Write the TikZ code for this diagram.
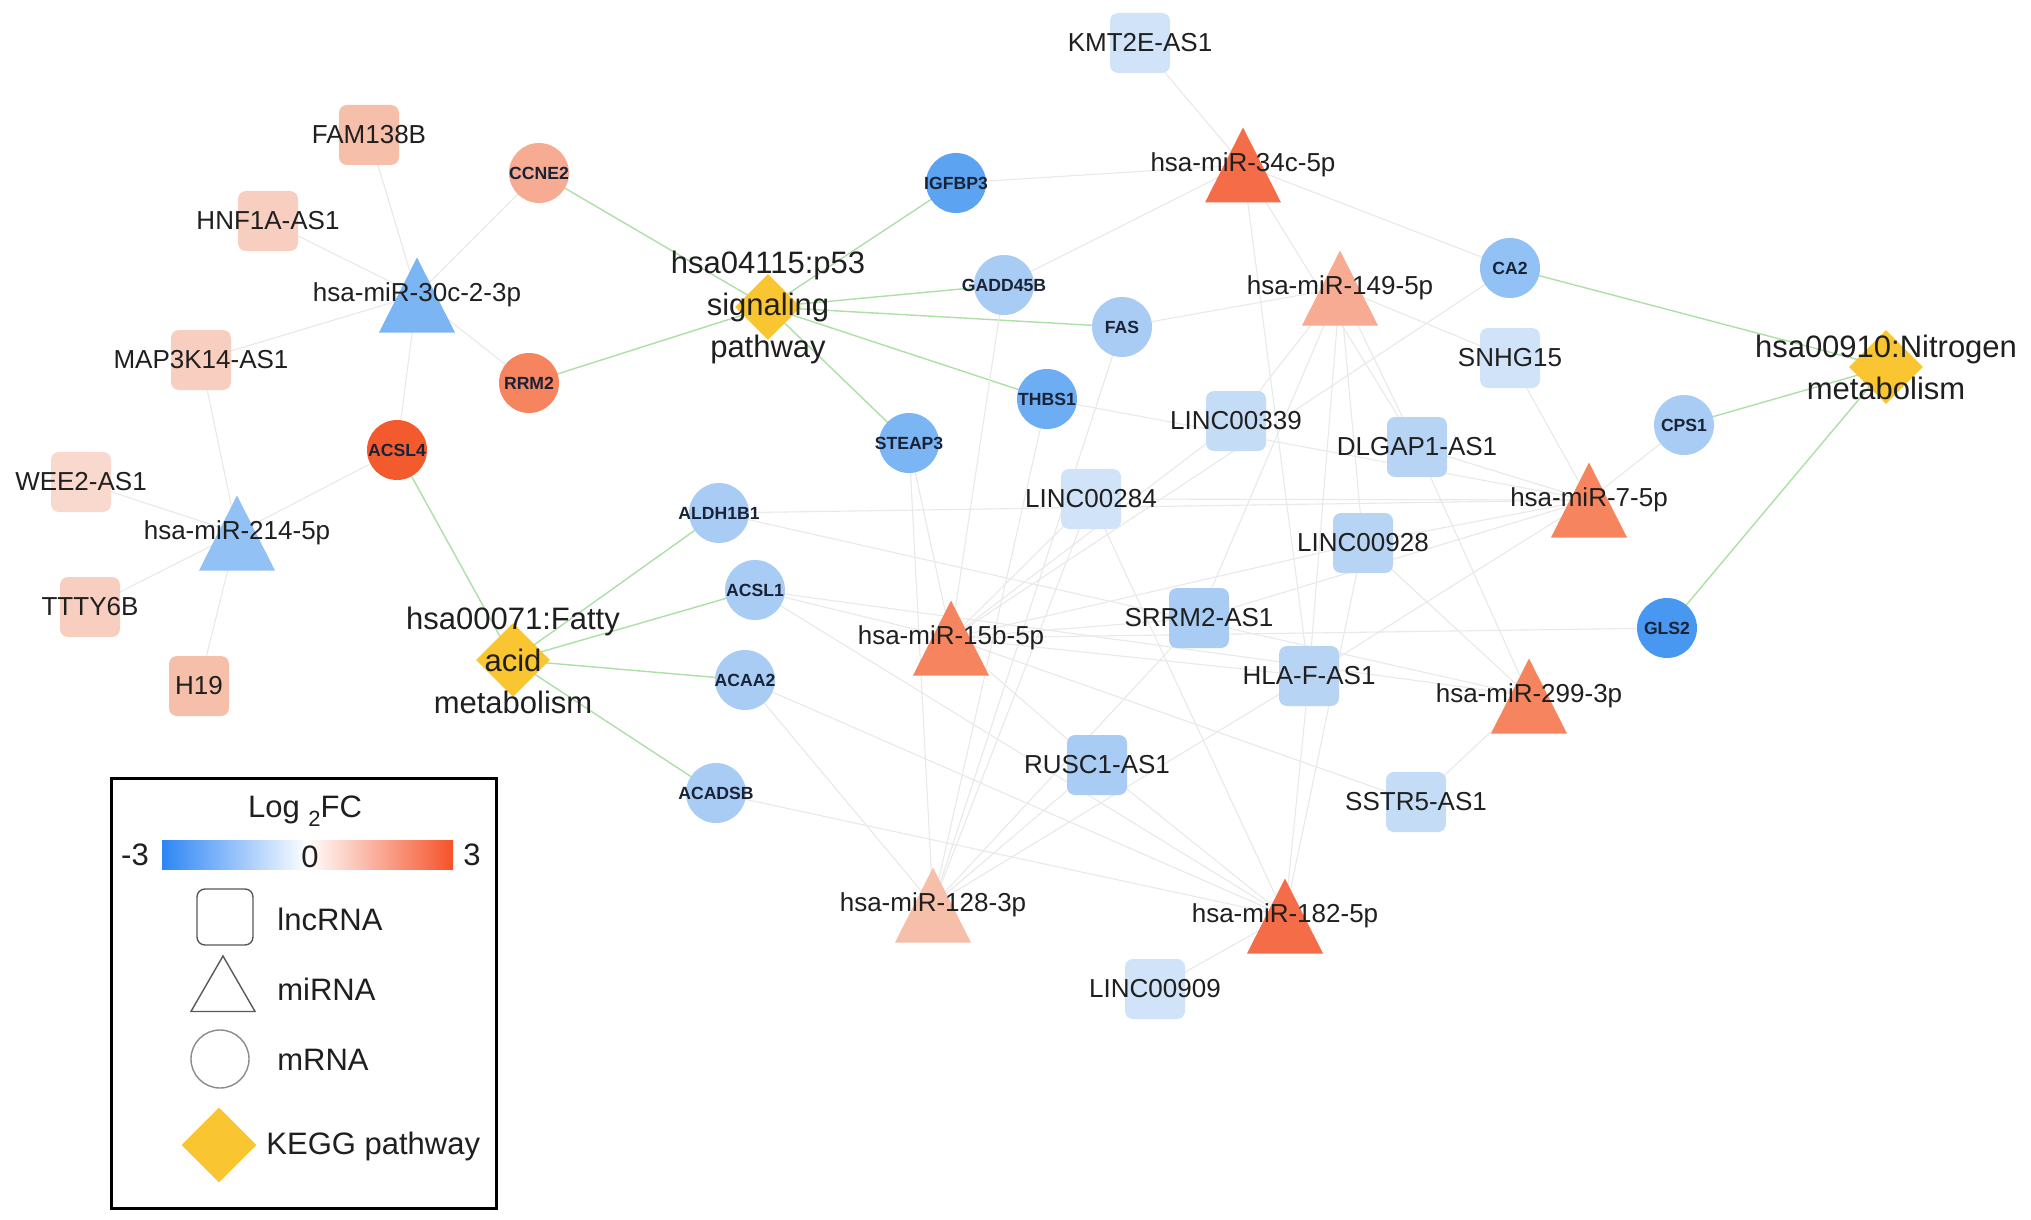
\documentclass[tikz,border=0pt]{standalone}
\usepackage{fontspec}
\setmainfont{Liberation Sans}
\usetikzlibrary{shapes.geometric,backgrounds}

\definecolor{keggyellow}{HTML}{F9C531}
\definecolor{celine}{HTML}{E9E9E9}
\definecolor{keggline}{HTML}{ADE0A6}
\definecolor{up1}{HTML}{F9D8CD}
\definecolor{up2}{HTML}{F8CEC0}
\definecolor{up3}{HTML}{F6BFAA}
\definecolor{up4}{HTML}{F7AB92}
\definecolor{up5}{HTML}{F6845F}
\definecolor{up6}{HTML}{F56D48}
\definecolor{up7}{HTML}{F35A2E}
\definecolor{dn1}{HTML}{D0E3F9}
\definecolor{dn2}{HTML}{C5DCF7}
\definecolor{dn3}{HTML}{B8D4F5}
\definecolor{dn4}{HTML}{A9CCF5}
\definecolor{dn5}{HTML}{92C2F5}
\definecolor{dn6}{HTML}{7CB5F4}
\definecolor{dn7}{HTML}{6CADF3}
\definecolor{dn8}{HTML}{5CA4F2}
\definecolor{dn9}{HTML}{4897F0}
\definecolor{fcblue}{HTML}{2D86F5}
\definecolor{fcred}{HTML}{F55229}

\begin{document}
\begin{tikzpicture}[x=0.5pt, y=-0.5pt,
    gene/.style={font=\fontsize{13}{15}\selectfont, text=black!88, inner sep=0pt},
    small/.style={font=\bfseries\fontsize{8.8}{10}\selectfont, text={rgb,255:red,25;green,35;blue,55}, inner sep=0pt},
    term/.style={font=\fontsize{15.5}{21}\selectfont, text=black!88, align=center, inner sep=0pt},
    legend/.style={font=\fontsize{15.5}{18}\selectfont, text=black!88, inner sep=0pt},
    lnc/.style 2 args={rectangle, rounded corners=4pt, minimum size=30pt, inner sep=0pt, fill=#1, label={[gene]center:#2}},
    mir/.style 2 args={rectangle, minimum width=38pt, minimum height=37.5pt, inner sep=0pt,
      path picture={\fill[#1] (path picture bounding box.north) -- (path picture bounding box.south east)
        -- (path picture bounding box.south west) -- cycle;},
      label={[gene]center:#2}},
    mrna/.style 2 args={circle, minimum size=30pt, inner sep=0pt, fill=#1, label={[small]center:#2}},
    kegg/.style 2 args={diamond, minimum size=#1, inner sep=0pt, fill=keggyellow, label={[term]center:{#2}}},
    ceedge/.style={draw=celine, line width=0.55pt},
    keggedge/.style={draw=keggline, line width=0.7pt}]
  \useasboundingbox (0,0) rectangle (2031,1220);

  \node[lnc={up3}{FAM138B}] (fam) at (369,135) {};
  \node[lnc={up2}{HNF1A-AS1}] (hnf) at (268,221) {};
  \node[lnc={up2}{MAP3K14-AS1}] (map) at (201,360) {};
  \node[lnc={up1}{WEE2-AS1}] (wee) at (81,482) {};
  \node[lnc={up2}{TTTY6B}] (tty) at (90,607) {};
  \node[lnc={up3}{H19}] (h19) at (199,686) {};
  \node[lnc={dn1}{KMT2E-AS1}] (kmt) at (1140,43) {};
  \node[lnc={dn1}{SNHG15}] (snhg) at (1510,358) {};
  \node[lnc={dn2}{LINC00339}] (l339) at (1236,421) {};
  \node[lnc={dn3}{DLGAP1-AS1}] (dlg) at (1417,447) {};
  \node[lnc={dn1}{LINC00284}] (l284) at (1091,499) {};
  \node[lnc={dn3}{LINC00928}] (l928) at (1363,543) {};
  \node[lnc={dn4}{SRRM2-AS1}] (srrm) at (1199,618) {};
  \node[lnc={dn3}{HLA-F-AS1}] (hla) at (1309,676) {};
  \node[lnc={dn4}{RUSC1-AS1}] (rusc) at (1097,765) {};
  \node[lnc={dn2}{SSTR5-AS1}] (sstr) at (1416,802) {};
  \node[lnc={dn1}{LINC00909}] (l909) at (1155,989) {};

  \node[mir={dn6}{hsa-miR-30c-2-3p}] (m30c) at (417,295) {};
  \node[mir={dn5}{hsa-miR-214-5p}] (m214) at (237,533) {};
  \node[mir={up6}{hsa-miR-34c-5p}] (m34c) at (1243,165) {};
  \node[mir={up4}{hsa-miR-149-5p}] (m149) at (1340,288) {};
  \node[mir={up5}{hsa-miR-7-5p}] (m7) at (1589,500) {};
  \node[mir={up5}{hsa-miR-15b-5p}] (m15b) at (951,638) {};
  \node[mir={up5}{hsa-miR-299-3p}] (m299) at (1529,696) {};
  \node[mir={up3}{hsa-miR-128-3p}] (m128) at (933,905) {};
  \node[mir={up6}{hsa-miR-182-5p}] (m182) at (1285,916) {};

  \node[mrna={up4}{CCNE2}] (ccne2) at (539,173) {};
  \node[mrna={up5}{RRM2}] (rrm2) at (529,383) {};
  \node[mrna={up7}{ACSL4}] (acsl4) at (397,450) {};
  \node[mrna={dn8}{IGFBP3}] (igfbp3) at (956,183) {};
  \node[mrna={dn4}{GADD45B}] (gadd) at (1004,285) {};
  \node[mrna={dn4}{FAS}] (fas) at (1122,327) {};
  \node[mrna={dn7}{THBS1}] (thbs1) at (1047,399) {};
  \node[mrna={dn6}{STEAP3}] (steap3) at (909,443) {};
  \node[mrna={dn5}{CA2}] (ca2) at (1510,268) {};
  \node[mrna={dn4}{CPS1}] (cps1) at (1684,425) {};
  \node[mrna={dn9}{GLS2}] (gls2) at (1667,628) {};
  \node[mrna={dn4}{ALDH1B1}] (aldh) at (719,513) {};
  \node[mrna={dn4}{ACSL1}] (acsl1) at (755,590) {};
  \node[mrna={dn4}{ACAA2}] (acaa2) at (745,680) {};
  \node[mrna={dn4}{ACADSB}] (acadsb) at (716,793) {};

  \node[kegg={33pt}{hsa04115:p53\\signaling\\pathway}] (p53) at (768,307) {};
  \node[kegg={37pt}{hsa00071:Fatty\\acid\\metabolism}] (fatty) at (513,660) {};
  \node[kegg={37pt}{hsa00910:Nitrogen\\metabolism}] (nitro) at (1886,367) {};

  \begin{scope}[on background layer]
    \fill[white] (0,0) rectangle (2031,1220);
    \foreach \k/\gs in {p53/{ccne2,igfbp3,gadd,fas,thbs1,steap3,rrm2},
        fatty/{acsl4,aldh,acsl1,acaa2,acadsb}, nitro/{ca2,cps1,gls2}}
      \foreach \g in \gs
        \draw[keggedge] (\k.center) -- (\g.center);
    \foreach \m/\ts in {m30c/{fam,hnf,map,ccne2,rrm2,acsl4},
        m214/{map,wee,tty,h19,acsl4},
        m34c/{kmt,igfbp3,gadd,ca2,hla,dlg},
        m149/{fas,snhg,l339,srrm,l928,dlg,hla},
        m7/{snhg,cps1,dlg,l284,l928,hla,srrm,aldh,thbs1},
        m15b/{l284,l339,l928,srrm,hla,sstr,rusc,acsl1,steap3,gadd,ca2,gls2},
        m299/{sstr,dlg,l928,acsl1,aldh},
        m128/{l284,rusc,hla,srrm,acaa2,steap3,thbs1,fas},
        m182/{l909,rusc,hla,l928,l284,acadsb,acaa2,acsl1}}
      \foreach \t in \ts
        \draw[ceedge] (\m.center) -- (\t.center);
  \end{scope}

  \draw[line width=1.5pt] (111,778) rectangle (496,1208);
  \node[legend] (fctitle) at (305,811) {Log \raisebox{-0.3em}{\fontsize{11}{11}\selectfont 2}FC};
  \shade[left color=fcblue, right color=white] (162,840) rectangle (308,869);
  \shade[left color=white, right color=fcred] (307,840) rectangle (453,869);
  \node[legend] (fcmin) at (135,855) {-3};
  \node[legend] (fczero) at (310,857) {0};
  \node[legend] (fcmax) at (472,855) {3};
  \node[rectangle, rounded corners=4pt, draw=black!65, line width=0.7pt, minimum size=28pt, inner sep=0pt] (keylnc) at (225,917) {};
  \node[regular polygon, regular polygon sides=3, minimum size=37pt, inner sep=0pt, draw=black!65, line width=0.7pt] (keymir) at (223,993) {};
  \node[circle, draw=black!45, line width=0.7pt, minimum size=29pt, inner sep=0pt] (keymrna) at (220,1059) {};
  \node[diamond, fill=keggyellow, minimum size=37.5pt, inner sep=0pt] (keykegg) at (219,1145) {};
  \node[legend, anchor=west] (keylnctext) at (277,919) {lncRNA};
  \node[legend, anchor=west] (keymirtext) at (277,989) {miRNA};
  \node[legend, anchor=west] (keymrnatext) at (277,1060) {mRNA};
  \node[legend, anchor=west] (keykeggtext) at (266,1146) {KEGG pathway};
\end{tikzpicture}
\end{document}
